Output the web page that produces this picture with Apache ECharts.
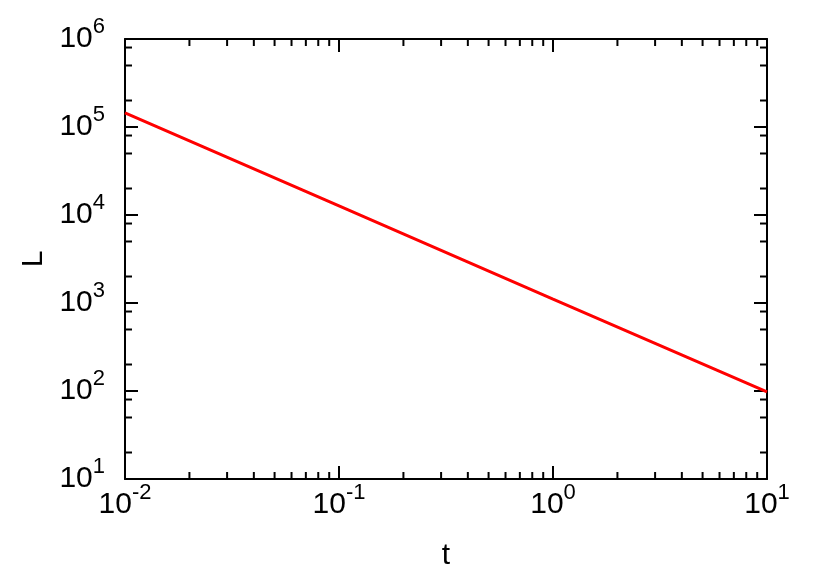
<!DOCTYPE html>
<html>
<head>
<meta charset="utf-8">
<script src="https://cdn.jsdelivr.net/npm/echarts@6/dist/echarts.min.js"></script>
<style>html,body{margin:0;padding:0;background:#fff}#c{width:822px;height:576px}</style>
</head>
<body>
<div id="c"></div>
<script>
// Data
var tValues = [0.01, 0.1, 1, 10];
var lValues = [145000, 12700, 1110, 98];
var xRange = [0.01, 10];
var yRange = [10, 1000000];
var xMinorTicks = [0.02,0.03,0.04,0.05,0.06,0.07,0.08,0.09,0.2,0.3,0.4,0.5,0.6,0.7,0.8,0.9,2,3,4,5,6,7,8,9];
var yMinorTicks = [20,50,80,200,500,800,2000,5000,8000,20000,50000,80000,200000,500000,800000];
var xName = 't';
var yName = 'L';

var FONT = 'Liberation Sans';
var lineData = tValues.map(function (t, i) { return [t, lValues[i]]; });

function powLabel(v) {
  var e = Math.round(Math.log(v) / Math.LN10);
  return '{b|10}{s|' + (e < 0 ? '-' + (-e) : e) + '}';
}
var rich = {
  b: { fontFamily: FONT, fontSize: 30, color: '#000', lineHeight: 30, verticalAlign: 'bottom' },
  s: { fontFamily: FONT, fontSize: 22, color: '#000', lineHeight: 22, verticalAlign: 'bottom', padding: [0, 0, 16, 0] }
};
var axisLineStyle = { color: '#000', width: 2 };
function baseAxis(extra) {
  var a = {
    type: 'log', logBase: 10,
    axisLine: { show: true, onZero: false, lineStyle: axisLineStyle },
    axisTick: { show: true, inside: true, length: 13, lineStyle: { color: '#000', width: 2 } },
    splitLine: { show: false },
    minorTick: { show: false },
    interval: 1
  };
  for (var k in extra) a[k] = extra[k];
  return a;
}

var chart = echarts.init(document.getElementById('c'), null, { renderer: 'canvas' });
chart.setOption({
  animation: false,
  backgroundColor: '#fff',
  grid: { left: 125, right: 55, top: 39, bottom: 96, containLabel: false },
  xAxis: [
    baseAxis({ position: 'bottom', min: xRange[0], max: xRange[1],
      name: xName, nameLocation: 'middle', nameGap: 62,
      nameTextStyle: { fontFamily: FONT, fontSize: 30, color: '#000' },
      axisLabel: { show: true, margin: 11, formatter: powLabel, rich: rich } }),
    baseAxis({ position: 'top', min: xRange[0], max: xRange[1], axisLabel: { show: false } })
  ],
  yAxis: [
    baseAxis({ position: 'left', min: yRange[0], max: yRange[1],
      name: yName, nameLocation: 'middle', nameGap: 76,
      nameTextStyle: { fontFamily: FONT, fontSize: 30, color: '#000' },
      axisLabel: { show: true, margin: 20, formatter: powLabel, rich: rich } }),
    baseAxis({ position: 'right', min: yRange[0], max: yRange[1], axisLabel: { show: false } })
  ],
  series: [
    {
      type: 'custom', xAxisIndex: 0, yAxisIndex: 0, clip: false, silent: true,
      data: xMinorTicks.map(function (v) { return [v, yRange[0]]; }),
      renderItem: function (params, api) {
        var v = api.value(0);
        var b = api.coord([v, yRange[0]]);
        var t = api.coord([v, yRange[1]]);
        var st = { stroke: '#000', lineWidth: 2 };
        return { type: 'group', children: [
          { type: 'line', shape: { x1: b[0], y1: b[1], x2: b[0], y2: b[1] - 7 }, style: st },
          { type: 'line', shape: { x1: t[0], y1: t[1], x2: t[0], y2: t[1] + 7 }, style: st }
        ] };
      }
    },
    {
      type: 'custom', xAxisIndex: 0, yAxisIndex: 0, clip: false, silent: true,
      data: yMinorTicks.map(function (v) { return [xRange[0], v]; }),
      renderItem: function (params, api) {
        var v = api.value(1);
        var l = api.coord([xRange[0], v]);
        var r = api.coord([xRange[1], v]);
        var st = { stroke: '#000', lineWidth: 2 };
        return { type: 'group', children: [
          { type: 'line', shape: { x1: l[0], y1: l[1], x2: l[0] + 7, y2: l[1] }, style: st },
          { type: 'line', shape: { x1: r[0], y1: r[1], x2: r[0] - 7, y2: r[1] }, style: st }
        ] };
      }
    },
    {
      type: 'line', xAxisIndex: 0, yAxisIndex: 0,
      data: lineData, showSymbol: false, symbol: 'none',
      lineStyle: { color: '#ff0000', width: 3 }, itemStyle: { color: '#ff0000' }
    }
  ]
});
</script>
</body>
</html>
